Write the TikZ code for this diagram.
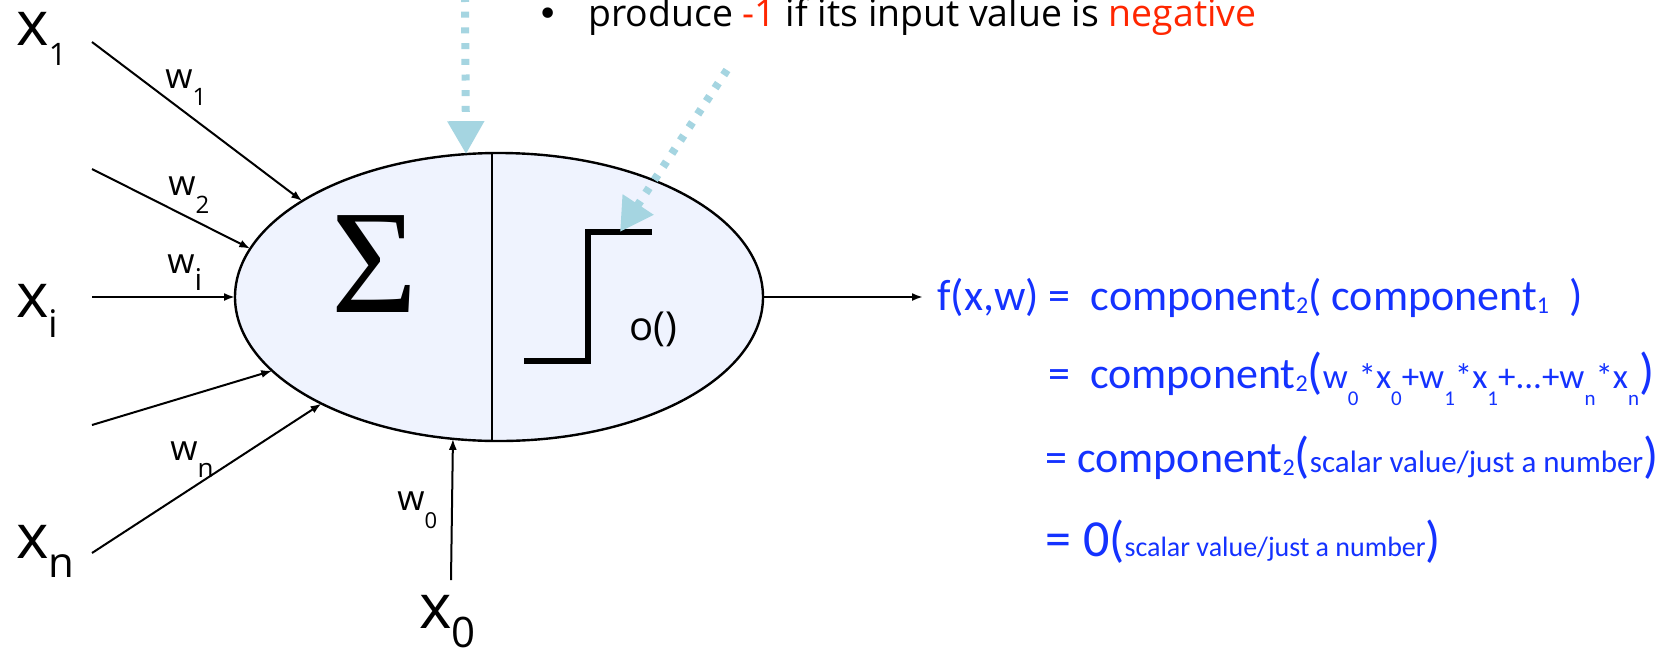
\documentclass[tikz,border=0pt]{standalone}
\usepackage{fontspec}
\setmainfont{Open Sans}
\newfontfamily\calfont{Carlito}
\newfontfamily\serfont{Liberation Serif}
\newfontfamily\symfont{DejaVu Sans}
\usetikzlibrary{arrows.meta,shapes.geometric}
\definecolor{ellfill}{RGB}{239,243,254}
\definecolor{hintblue}{RGB}{165,213,225}
\definecolor{fblue}{RGB}{20,50,255}
\definecolor{negred}{RGB}{255,38,0}
\newcommand\sz[1]{\fontsize{#1}{#1}\selectfont}
\newcommand\bsub[1]{\raisebox{-1.5pt}{\sz{12pt}#1}}
\newcommand\isub[1]{\raisebox{-8.5pt}{\sz{10.5pt}#1}}
\newcommand\bigp[1]{{\sz{25pt}#1}}
\begin{document}
\begin{tikzpicture}[x=0.5pt,y=-0.5pt,
  lbl/.style={inner sep=0pt, anchor=base west},
  wire/.style={line width=1pt, -{Latex[length=5.5pt,width=4pt]}},
  hint/.style={draw=hintblue, line width=4pt, dash pattern=on 3pt off 4.85pt,
    -{Triangle[length=16.5pt,width=17.5pt,fill=hintblue]}},
  eq/.style={inner sep=0pt, anchor=base west, text=fblue, font=\calfont},
  stepline/.style={line width=2.8pt, line cap=butt, line join=miter}]
\useasboundingbox (0,0) rectangle (1676,649);
\fill[white] (0,0) rectangle (1676,649);

% neuron body
\node[ellipse, draw, fill=ellfill, line width=1.2pt, minimum width=264pt,
  minimum height=144pt, inner sep=0pt, outer sep=0pt] (neuron) at (499,297) {};
\draw[line width=1pt] ([xshift=-3.5pt]neuron.north) -- ([xshift=-3.5pt]neuron.south);

% sum and step
\node[inner sep=0pt, anchor=base] (sigma) at (375,312) {\serfont\sz{74pt}Σ};
\draw[stepline] (524,361) -- (588,361) -- (588,232) -- (652,232);
\coordinate (stepTop) at (620,232);
\node[lbl] (oname) at (629,340) {\sz{20pt}o()};

% top text
\node[inner sep=0pt, anchor=base] (bullet) at (548,26) {\symfont\sz{18pt}•};
\node[lbl] (rule) at (588,26) {\sz{18.7pt}produce \textcolor{negred}{-1} if its input value is \textcolor{negred}{negative}};

% hint arrows
\coordinate (h1) at (465,-4);
\coordinate (h2) at (727,70);
\draw[hint] (h1) -- (neuron.103);
\draw[hint] (h2) -- (stepTop);

% input labels
\node[lbl] (x1) at (16,45) {\sz{31pt}x\raisebox{-10pt}{\sz{15.5pt}1}};
\node[lbl] (xi) at (16,317) {\sz{31pt}x\raisebox{-10pt}{\sz{19pt}i}};
\node[lbl] (xn) at (16,558) {\sz{31pt}x\raisebox{-9.5pt}{\sz{21pt}n}};
\node[lbl] (x0) at (419,628) {\sz{31pt}x\raisebox{-9.5pt}{\sz{21pt}0}};

% weight labels
\node[lbl] (w1) at (165,88) {\sz{17.5pt}w\raisebox{-8.5pt}{\sz{12pt}1}};
\node[lbl] (w2) at (168,195) {\sz{17.5pt}w\raisebox{-9pt}{\sz{12pt}2}};
\node[lbl] (wi) at (167,273) {\sz{17.5pt}w\raisebox{-8.5pt}{\sz{15pt}i}};
\node[lbl] (wn) at (170,460) {\sz{17.5pt}w\raisebox{-8.5pt}{\sz{13pt}n}};
\node[lbl] (w0) at (397,510) {\sz{17.5pt}w\raisebox{-9pt}{\sz{11pt}0}};

% input wires
\coordinate (c1) at (92,42);
\coordinate (c2) at (92,169);
\coordinate (ci) at (92,297);
\coordinate (c4) at (92,425);
\coordinate (cn) at (92,553);
\coordinate (c0) at (451,580);
\draw[wire] (c1) -- (neuron.154);
\draw[wire] (c2) -- (neuron.169);
\draw[wire] (ci) -- (neuron.180);
\draw[wire] (c4) -- (neuron.198);
\draw[wire] (cn) -- (neuron.211);
\draw[wire] (c0) -- (neuron.252);

% formula
\node[eq] (l1) at (937,310) {\sz{22pt}f(x,w) =\ \ component\bsub{2}( component\bsub{1}\ \ )};
\node[eq] (l2) at (1048,388) {\sz{22pt}=\ \ component\bsub{2}\bigp{(}{\sz{17.5pt}w\isub{0}*x\isub{0}+w\isub{1}*x\isub{1}+...+w\isub{n}*x\isub{n}}\bigp{)}};
\node[eq] (l3) at (1045,472) {\sz{22pt}= component\bsub{2}\bigp{(}{\sz{15.5pt}scalar value/just a number}\bigp{)}};
\node[eq] (l4) at (1045,556) {\sz{26pt}= 0\bigp{(}{\sz{14pt}scalar value/just a number}\bigp{)}};

\draw[wire, shorten >=7pt] (neuron.east) -- (neuron.east -| l1.west);
\end{tikzpicture}
\end{document}
